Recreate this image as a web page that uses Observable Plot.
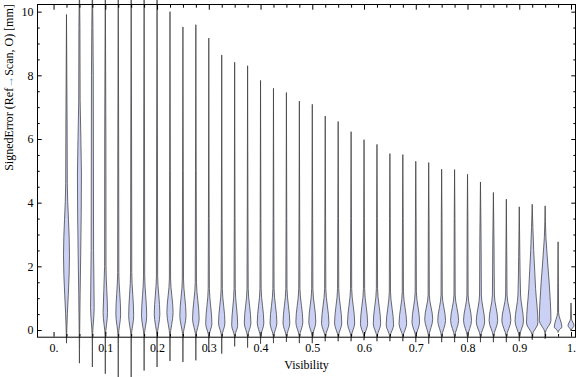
<!DOCTYPE html>
<html><head><meta charset="utf-8">
<script src="https://cdn.jsdelivr.net/npm/d3@7"></script>
<script src="https://cdn.jsdelivr.net/npm/@observablehq/plot@0.6"></script>
<style>html,body{margin:0;padding:0;background:#fff;}</style>
</head><body><div id="chart"></div>
<script>
// ---- data ----
const visibility = [0.025,0.05,0.075,0.1,0.125,0.15,0.175,0.2,0.225,0.25,0.275,0.3,0.325,0.35,0.375,0.4,0.425,0.45,0.475,0.5,0.525,0.55,0.575,0.6,0.625,0.65,0.675,0.7,0.725,0.75,0.775,0.8,0.825,0.85,0.875,0.9,0.925,0.95,0.975,1.0];
const errMin  = [-0.40,-1.03,-1.15,-1.36,-1.48,-1.48,-1.26,-1.15,-0.96,-0.99,-0.94,-0.68,-0.73,-0.50,-0.54,-0.42,-0.40,-0.36,-0.40,-0.40,-0.34,-0.34,-0.34,-0.31,-0.34,-0.34,-0.34,-0.37,-0.42,-0.37,-0.37,-0.37,-0.37,-0.37,-0.37,-0.34,-0.29,-0.26,-0.06,-0.02];
const errLow  = [-0.10,-0.20,-0.20,-0.20,-0.20,-0.20,-0.20,-0.20,-0.20,-0.20,-0.20,-0.20,-0.20,-0.20,-0.20,-0.20,-0.20,-0.20,-0.20,-0.20,-0.20,-0.20,-0.20,-0.20,-0.20,-0.20,-0.20,-0.20,-0.20,-0.20,-0.20,-0.20,-0.20,-0.20,-0.20,-0.20,-0.15,-0.08,-0.04,0.00];
const errMode = [2.35,4.90,0.70,0.55,0.50,0.45,0.45,0.50,0.55,0.45,0.35,0.20,0.22,0.15,0.22,0.22,0.22,0.22,0.25,0.25,0.21,0.22,0.22,0.20,0.20,0.16,0.20,0.25,0.34,0.30,0.30,0.30,0.26,0.30,0.30,0.28,0.22,0.30,0.10,0.14];
const densMode= [3.0,2.0,1.8,2.2,2.4,2.5,2.6,2.8,3.1,3.1,3.3,3.1,3.2,3.0,3.3,3.3,3.4,3.4,3.5,3.5,3.7,3.6,3.6,3.6,3.7,3.7,3.8,3.8,4.0,3.9,4.0,4.0,4.2,4.3,4.5,4.2,5.7,5.8,3.8,3.0];
const errNeck = [4.6,7.2,2.5,2.0,1.8,1.8,1.7,1.7,1.6,1.6,1.5,1.3,1.3,1.3,1.3,1.3,1.3,1.3,1.3,1.3,1.3,1.3,1.3,1.3,1.3,1.2,1.2,1.2,1.1,1.1,1.1,1.1,1.1,1.1,1.1,1.1,1.3,1.5,0.55,0.35];
const densNeck= [0.8,0.7,1.2,0.7,0.6,0.6,0.6,0.6,0.6,0.6,0.6,0.6,0.6,0.6,0.6,0.6,0.6,0.6,0.6,0.6,0.6,0.6,0.6,0.6,0.6,0.6,0.6,0.6,0.6,0.6,0.6,0.6,0.9,1.0,0.7,1.3,3.4,4.0,0.5,0.5];
const errTail = [6.5,9.5,8.0,6.0,6.0,6.0,6.0,6.0,5.0,5.0,5.0,3.5,3.5,3.5,3.5,3.5,3.5,3.5,3.5,3.5,3.5,3.5,3.5,3.5,3.5,3.5,3.5,3.5,3.5,3.5,3.5,3.5,3.0,2.8,2.5,2.3,2.5,2.9,1.5,0.6];
const densTail= [0.6,0.5,0.9,0.6,0.4,0.4,0.4,0.4,0.35,0.35,0.35,0.35,0.35,0.35,0.35,0.35,0.35,0.35,0.35,0.35,0.35,0.35,0.35,0.35,0.35,0.35,0.35,0.35,0.35,0.35,0.35,0.35,0.6,0.6,0.4,0.6,1.5,0.8,0.3,0.3];
const errMax  = [9.91,11,11,11,11,11,11,11,10.0,9.52,9.59,9.17,8.64,8.41,8.30,7.84,7.59,7.46,7.19,7.09,6.72,6.55,6.23,5.98,5.83,5.54,5.51,5.30,5.26,5.05,5.04,4.89,4.65,4.32,4.11,3.87,3.95,3.90,2.77,0.85];

const xMajor = [0,0.1,0.2,0.3,0.4,0.5,0.6,0.7,0.8,0.9,1.0];
const xMinor = [0.025,0.05,0.075,0.125,0.15,0.175,0.225,0.25,0.275,0.325,0.35,0.375,0.425,0.45,0.475,0.525,0.55,0.575,0.625,0.65,0.675,0.725,0.75,0.775,0.825,0.85,0.875,0.925,0.95,0.975];
const xLabels = ["0.","0.1","0.2","0.3","0.4","0.5","0.6","0.7","0.8","0.9","1."];
const yMajor = [0,2,4,6,8,10];
const yMinor = [0.5,1,1.5,2.5,3,3.5,4.5,5,5.5,6.5,7,7.5,8.5,9,9.5];
const xTitle = "Visibility";
const yTitle = "SignedError (Ref→Scan, O) [mm]";

// ---- build violin outlines ----
const W = 0.1 / 51.75; // visibility units per density unit
const rows = [];
visibility.forEach((v, i) => {
  [[errMin[i],0],[errLow[i],0.2],[errMode[i],densMode[i]],[errNeck[i],densNeck[i]],[errTail[i],densTail[i]],[errMax[i],0]]
    .forEach(([e, d]) => rows.push({vis: v, err: e, dens: d}));
});

const font = "'Liberation Serif','Times New Roman',serif";
const plot = Plot.plot({
  width: 576, height: 377,
  marginLeft: 37, marginRight: 1, marginTop: 4, marginBottom: 40.3,
  x: {domain: [-0.032, 1.0077]},
  y: {domain: [-0.21, 10.24]},
  style: {fontFamily: font, fontSize: "12px", color: "#000", background: "#fff"},
  marks: [
    Plot.areaX(rows, {y: "err", x1: d => d.vis - d.dens * W, x2: d => d.vis + d.dens * W, z: "vis",
      curve: "monotone-y", fill: "#cbd1f4", stroke: "#3c3c3c", strokeWidth: 0.75}),
    Plot.frame({stroke: "#000", strokeWidth: 1}),
    Plot.axisY({anchor: "left", ticks: yMajor, tickSize: -4.7, tickFormat: () => "", label: null}),
    Plot.axisY({anchor: "left", ticks: yMinor, tickSize: -2.7, tickFormat: () => "", label: null}),
    Plot.axisY({anchor: "right", ticks: yMajor, tickSize: -4.7, tickFormat: () => "", label: null}),
    Plot.axisY({anchor: "right", ticks: yMinor, tickSize: -2.7, tickFormat: () => "", label: null}),
    Plot.axisY({anchor: "left", ticks: yMajor, tickSize: 0, tickPadding: 4, label: null, fontSize: 12}),
    Plot.axisX({anchor: "bottom", ticks: xMajor, tickSize: -4.7, tickFormat: () => "", label: null}),
    Plot.axisX({anchor: "bottom", ticks: xMinor, tickSize: -2.7, tickFormat: () => "", label: null}),
    Plot.axisX({anchor: "top", ticks: xMajor, tickSize: -4.7, tickFormat: () => "", label: null}),
    Plot.axisX({anchor: "top", ticks: xMinor, tickSize: -2.7, tickFormat: () => "", label: null}),
    Plot.axisX({anchor: "bottom", ticks: xMajor, tickSize: 0, tickPadding: 6.5, label: null, fontSize: 12,
      tickFormat: d => xLabels[xMajor.indexOf(d)]}),
    Plot.text([xTitle], {frameAnchor: "bottom", dy: 31.5, text: d => d, fontSize: 12}),
    Plot.text([yTitle], {frameAnchor: "left", dx: -28, rotate: -90, text: d => d, fontSize: 12})
  ]
});
document.getElementById("chart").appendChild(plot);

// colour the arrow in the y title
plot.querySelectorAll("text").forEach(t => {
  if (t.textContent === yTitle) {
    const [a, b] = yTitle.split("→");
    t.textContent = "";
    const ns = "http://www.w3.org/2000/svg";
    const s1 = document.createElementNS(ns, "tspan"); s1.textContent = a;
    const s2 = document.createElementNS(ns, "tspan"); s2.textContent = "→"; s2.setAttribute("fill", "#4a9ad6");
    const s3 = document.createElementNS(ns, "tspan"); s3.textContent = b;
    t.append(s1, s2, s3);
  }
});
</script>
</body></html>
